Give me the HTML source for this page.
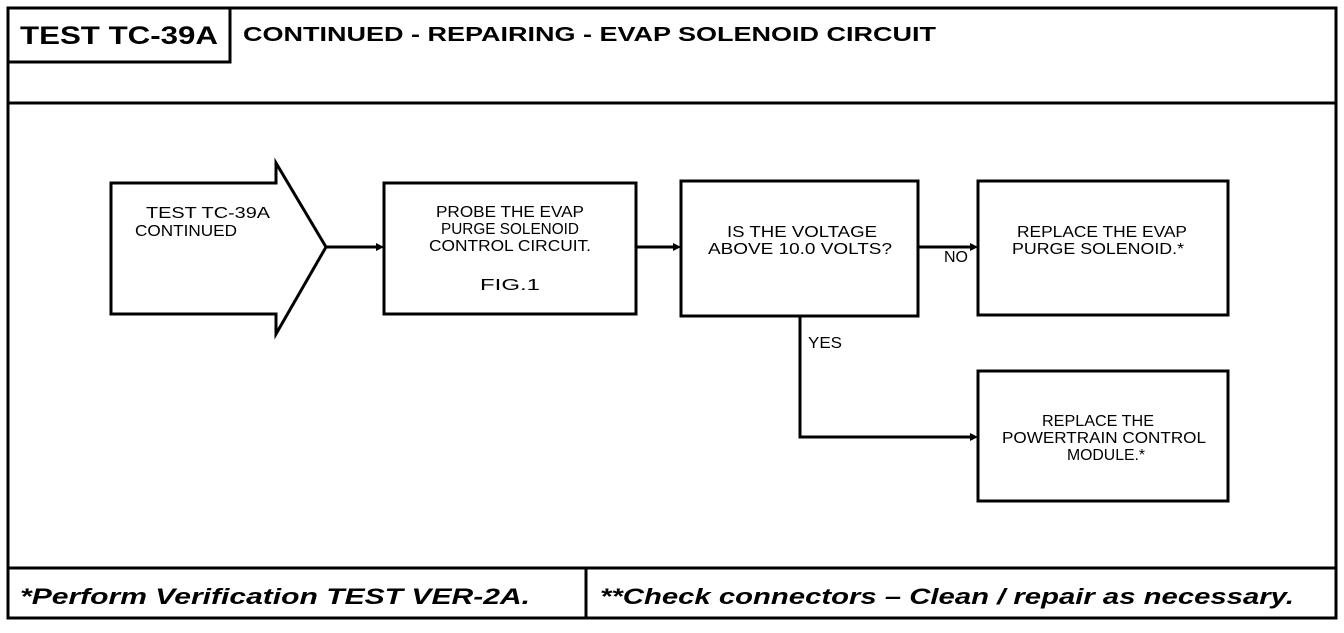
<!DOCTYPE html>
<html><head><meta charset="utf-8"><style>
html,body{margin:0;padding:0;background:#fff;}
body{width:1344px;height:628px;overflow:hidden;position:relative;}
svg text{font-family:"Liberation Sans",sans-serif;}
.m{font-family:"Liberation Mono",monospace;font-size:16px;}
</style></head><body>
<svg width="1344" height="628" viewBox="0 0 1344 628" xmlns="http://www.w3.org/2000/svg">
<g fill="none" stroke="#000" stroke-width="3">
<rect x="8" y="8" width="1328" height="610"/>
<rect x="8" y="8" width="222" height="54"/>
<line x1="8" y1="103" x2="1336" y2="103"/>
<line x1="8" y1="568" x2="1336" y2="568"/>
<line x1="586" y1="568" x2="586" y2="618"/>
<polygon points="111,183 276,183 276,163 326,247 276,334 276,314 111,314"/>
<rect x="384" y="183" width="252" height="131"/>
<rect x="681" y="181" width="237" height="135"/>
<rect x="978" y="181" width="250" height="134"/>
<rect x="978" y="371" width="250" height="130"/>
<line x1="326" y1="247" x2="378" y2="247"/>
<line x1="636" y1="247" x2="675" y2="247"/>
<line x1="918" y1="247" x2="972" y2="247"/>
<polyline points="800,316 800,437 972,437"/>
</g>
<g fill="#000">
<polygon points="384,247 376,243 376,251"/>
<polygon points="681,247 673,243 673,251"/>
<polygon points="978,247 970,243 970,251"/>
<polygon points="978,437 970,433 970,441"/>
</g>
<text x="20" y="44" font-size="25" font-weight="bold" textLength="198" lengthAdjust="spacingAndGlyphs">TEST TC-39A</text>
<text x="243" y="41" font-size="20" font-weight="bold" textLength="693" lengthAdjust="spacingAndGlyphs">CONTINUED -  REPAIRING - EVAP SOLENOID CIRCUIT</text>
<text x="20" y="604" font-size="22" font-weight="bold" font-style="italic" textLength="510" lengthAdjust="spacingAndGlyphs">*Perform Verification TEST VER-2A.</text>
<text x="600" y="604" font-size="22" font-weight="bold" font-style="italic" textLength="694" lengthAdjust="spacingAndGlyphs">**Check connectors – Clean / repair as necessary.</text>
<g class="m">
<text x="146" y="218" textLength="124" lengthAdjust="spacingAndGlyphs">TEST TC-39A</text>
<text x="135" y="236" textLength="102" lengthAdjust="spacingAndGlyphs">CONTINUED</text>
<text x="510" y="217" text-anchor="middle" textLength="148" lengthAdjust="spacingAndGlyphs">PROBE THE EVAP</text>
<text x="510" y="234" text-anchor="middle" textLength="138" lengthAdjust="spacingAndGlyphs">PURGE SOLENOID</text>
<text x="510" y="251" text-anchor="middle" textLength="162" lengthAdjust="spacingAndGlyphs">CONTROL CIRCUIT.</text>
<text x="510" y="290" text-anchor="middle" textLength="60" lengthAdjust="spacingAndGlyphs">FIG.1</text>
<text x="802" y="237" text-anchor="middle" textLength="150" lengthAdjust="spacingAndGlyphs">IS THE VOLTAGE</text>
<text x="800" y="254" text-anchor="middle" textLength="184" lengthAdjust="spacingAndGlyphs">ABOVE 10.0 VOLTS?</text>
<text x="944" y="262" textLength="24" lengthAdjust="spacingAndGlyphs">NO</text>
<text x="808" y="348" textLength="34" lengthAdjust="spacingAndGlyphs">YES</text>
<text x="1102" y="237" text-anchor="middle" textLength="170" lengthAdjust="spacingAndGlyphs">REPLACE THE EVAP</text>
<text x="1098" y="254" text-anchor="middle" textLength="172" lengthAdjust="spacingAndGlyphs">PURGE SOLENOID.*</text>
<text x="1098" y="426" text-anchor="middle" textLength="112" lengthAdjust="spacingAndGlyphs">REPLACE THE</text>
<text x="1104" y="443" text-anchor="middle" textLength="204" lengthAdjust="spacingAndGlyphs">POWERTRAIN CONTROL</text>
<text x="1106" y="460" text-anchor="middle" textLength="78" lengthAdjust="spacingAndGlyphs">MODULE.*</text>
</g>
</svg>
</body></html>
